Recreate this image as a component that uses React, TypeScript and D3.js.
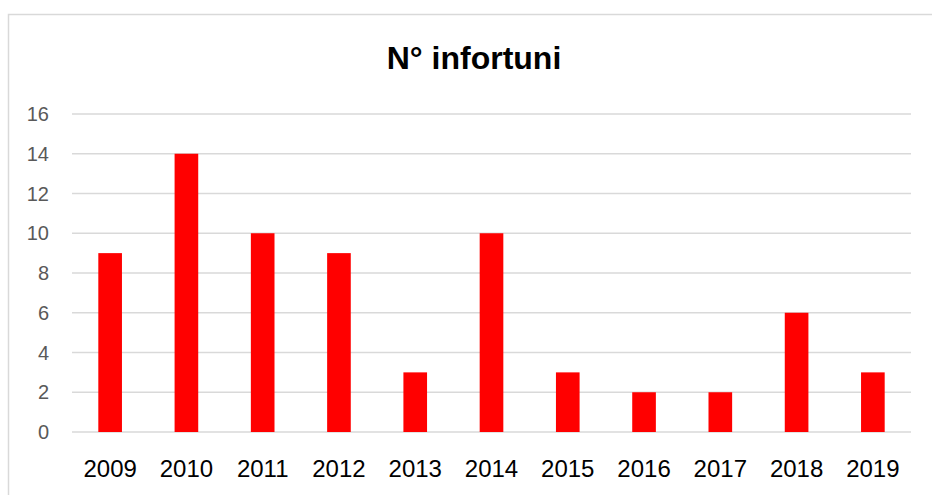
import React, { useEffect, useRef } from "react";
import * as d3 from "d3";

const years = ["2009", "2010", "2011", "2012", "2013", "2014", "2015", "2016", "2017", "2018", "2019"];
const infortuni = [9, 14, 10, 9, 3, 10, 3, 2, 2, 6, 3];
const yTicks = [0, 2, 4, 6, 8, 10, 12, 14, 16];
const title = "N° infortuni";

const WIDTH = 932;
const HEIGHT = 495;

const App = () => {
  const chartRef = useRef<SVGSVGElement | null>(null);

  useEffect(() => {
    drawChart();
  }, []);

  const drawChart = () => {
    const svg = d3.select(chartRef.current);
    svg.selectAll("*").remove(); // start clean

    const margin = { top: 114, right: 21, bottom: 63, left: 72 };
    const font = "'Liberation Sans', Arial, sans-serif";

    // chart area border (only left + top visible in the crop)
    svg
      .append("rect")
      .attr("x", 8.5)
      .attr("y", 14.5)
      .attr("width", 960)
      .attr("height", 520)
      .attr("fill", "#ffffff")
      .attr("stroke", "#d9d9d9")
      .attr("stroke-width", 1.5);

    const x = d3
      .scaleBand()
      .domain(years)
      .range([margin.left, WIDTH - margin.right])
      .paddingInner(0.69)
      .paddingOuter(0.345);

    const y = d3
      .scaleLinear()
      .domain([0, 16])
      .range([HEIGHT - margin.bottom, margin.top]);

    // gridlines
    svg
      .append("g")
      .selectAll("line")
      .data(yTicks)
      .join("line")
      .attr("x1", margin.left)
      .attr("x2", WIDTH - margin.right)
      .attr("y1", (d) => y(d))
      .attr("y2", (d) => y(d))
      .attr("stroke", "#d9d9d9")
      .attr("stroke-width", 1.5);

    // y labels
    svg
      .append("g")
      .selectAll("text")
      .data(yTicks)
      .join("text")
      .attr("x", 49)
      .attr("y", (d) => y(d) + 7)
      .attr("text-anchor", "end")
      .attr("font-family", font)
      .attr("font-size", 20)
      .attr("fill", "#595959")
      .text((d) => d);

    // bars
    svg
      .append("g")
      .selectAll("rect")
      .data(infortuni)
      .join("rect")
      .attr("x", (d, i) => x(years[i]) as number)
      .attr("y", (d) => y(d))
      .attr("width", x.bandwidth())
      .attr("height", (d) => y(0) - y(d))
      .attr("fill", "#ff0000");

    // x labels
    svg
      .append("g")
      .selectAll("text")
      .data(years)
      .join("text")
      .attr("x", (d) => (x(d) as number) + x.bandwidth() / 2)
      .attr("y", 477)
      .attr("text-anchor", "middle")
      .attr("font-family", font)
      .attr("font-size", 24)
      .attr("fill", "#000000")
      .text((d) => d);

    // title
    svg
      .append("text")
      .attr("x", 474)
      .attr("y", 69)
      .attr("text-anchor", "middle")
      .attr("font-family", font)
      .attr("font-size", 32)
      .attr("font-weight", "bold")
      .attr("fill", "#000000")
      .text(title);
  };

  return (
    <svg
      ref={chartRef}
      width={WIDTH}
      height={HEIGHT}
      style={{ position: "absolute", left: 0, top: 0, display: "block", background: "#ffffff" }}
    ></svg>
  );
};

export default App;
